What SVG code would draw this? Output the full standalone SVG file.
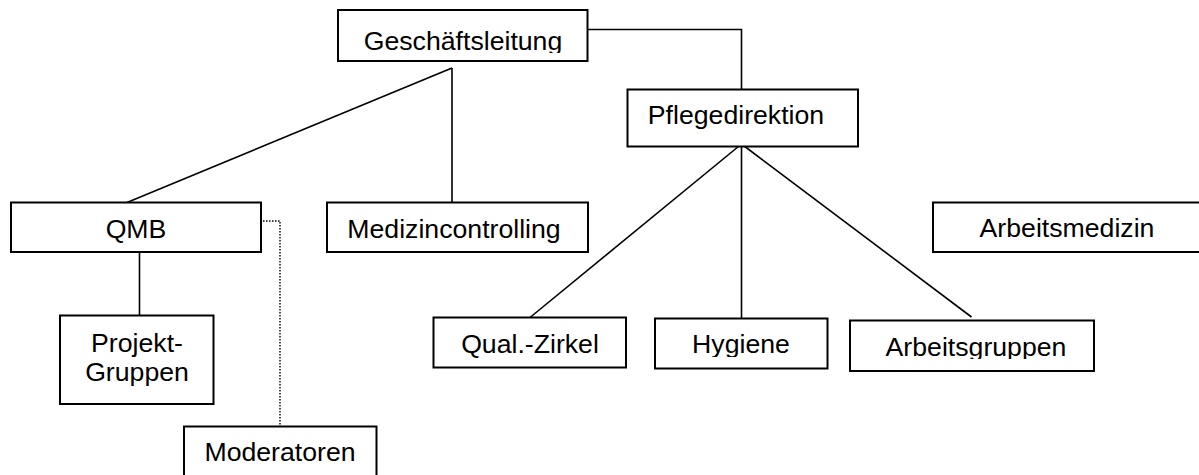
<svg xmlns="http://www.w3.org/2000/svg" width="1199" height="475" viewBox="0 0 1199 475">
<style>
.box{fill:#fff;stroke:#000;stroke-width:2}
.lbl{font-family:"Liberation Sans",Arial,sans-serif;font-size:26.67px;fill:#000;text-anchor:middle}
.con{fill:none;stroke:#000;stroke-width:1.6}
.dot{fill:none;stroke:#000;stroke-width:1.4;stroke-dasharray:1.5 1.5}
</style>
<defs>
<clipPath id="cgl"><rect x="330" y="0" width="270" height="53"/></clipPath>
<clipPath id="cmed"><rect x="320" y="190" width="280" height="241"/></clipPath>
<clipPath id="chy"><rect x="640" y="300" width="200" height="57"/></clipPath>
<clipPath id="cag"><rect x="840" y="300" width="260" height="59"/></clipPath>
</defs>
<rect width="1199" height="475" fill="#fff"/>
<g id="connectors">
<polyline class="con" points="587.5,29.5 741.5,29.5 741.5,89.5"/>
<line class="con" x1="452" y1="68" x2="127" y2="202.5"/>
<line class="con" x1="452" y1="68" x2="452" y2="202.5"/>
<line class="con" x1="741.5" y1="144" x2="530" y2="317.5"/>
<line class="con" x1="741.5" y1="144" x2="741.5" y2="318.5"/>
<line class="con" x1="741.5" y1="144" x2="971.5" y2="317"/>
<line class="con" x1="139.5" y1="252" x2="139.5" y2="315.5"/>
<polyline class="dot" points="263,221 280,221 280,426.5"/>
</g>
<g id="geschaeftsleitung">
<rect class="box" x="338" y="10" width="249.5" height="51"/>
<text class="lbl" x="463" y="50" clip-path="url(#cgl)">Geschäftsleitung</text>
</g>
<g id="pflegedirektion">
<rect class="box" x="627.5" y="89.5" width="230.5" height="57"/>
<text class="lbl" x="736" y="124">Pflegedirektion</text>
</g>
<g id="qmb">
<rect class="box" x="11" y="202.5" width="250" height="49.5"/>
<text class="lbl" x="136" y="238">QMB</text>
</g>
<g id="medizincontrolling">
<rect class="box" x="327" y="202.5" width="261" height="49.5"/>
<text class="lbl" x="454" y="238" clip-path="url(#cmed)">Medizincontrolling</text>
</g>
<g id="arbeitsmedizin">
<rect class="box" x="933" y="202.5" width="280" height="49.5"/>
<text class="lbl" x="1067" y="237">Arbeitsmedizin</text>
</g>
<g id="qualzirkel">
<rect class="box" x="433.5" y="317.5" width="192.5" height="50"/>
<text class="lbl" x="530" y="353">Qual.-Zirkel</text>
</g>
<g id="hygiene">
<rect class="box" x="655" y="318.5" width="172.5" height="50"/>
<text class="lbl" x="741" y="353" clip-path="url(#chy)">Hygiene</text>
</g>
<g id="arbeitsgruppen">
<rect class="box" x="850" y="320.5" width="244" height="50.5"/>
<text class="lbl" x="976" y="356" clip-path="url(#cag)">Arbeitsgruppen</text>
</g>
<g id="projektgruppen">
<rect class="box" x="60" y="315.5" width="153.5" height="88.5"/>
<text class="lbl" x="137" y="351.5">Projekt-</text>
<text class="lbl" x="137" y="380.5">Gruppen</text>
</g>
<g id="moderatoren">
<rect class="box" x="184" y="426.5" width="192.5" height="60"/>
<text class="lbl" x="280" y="460.5">Moderatoren</text>
</g>
</svg>
